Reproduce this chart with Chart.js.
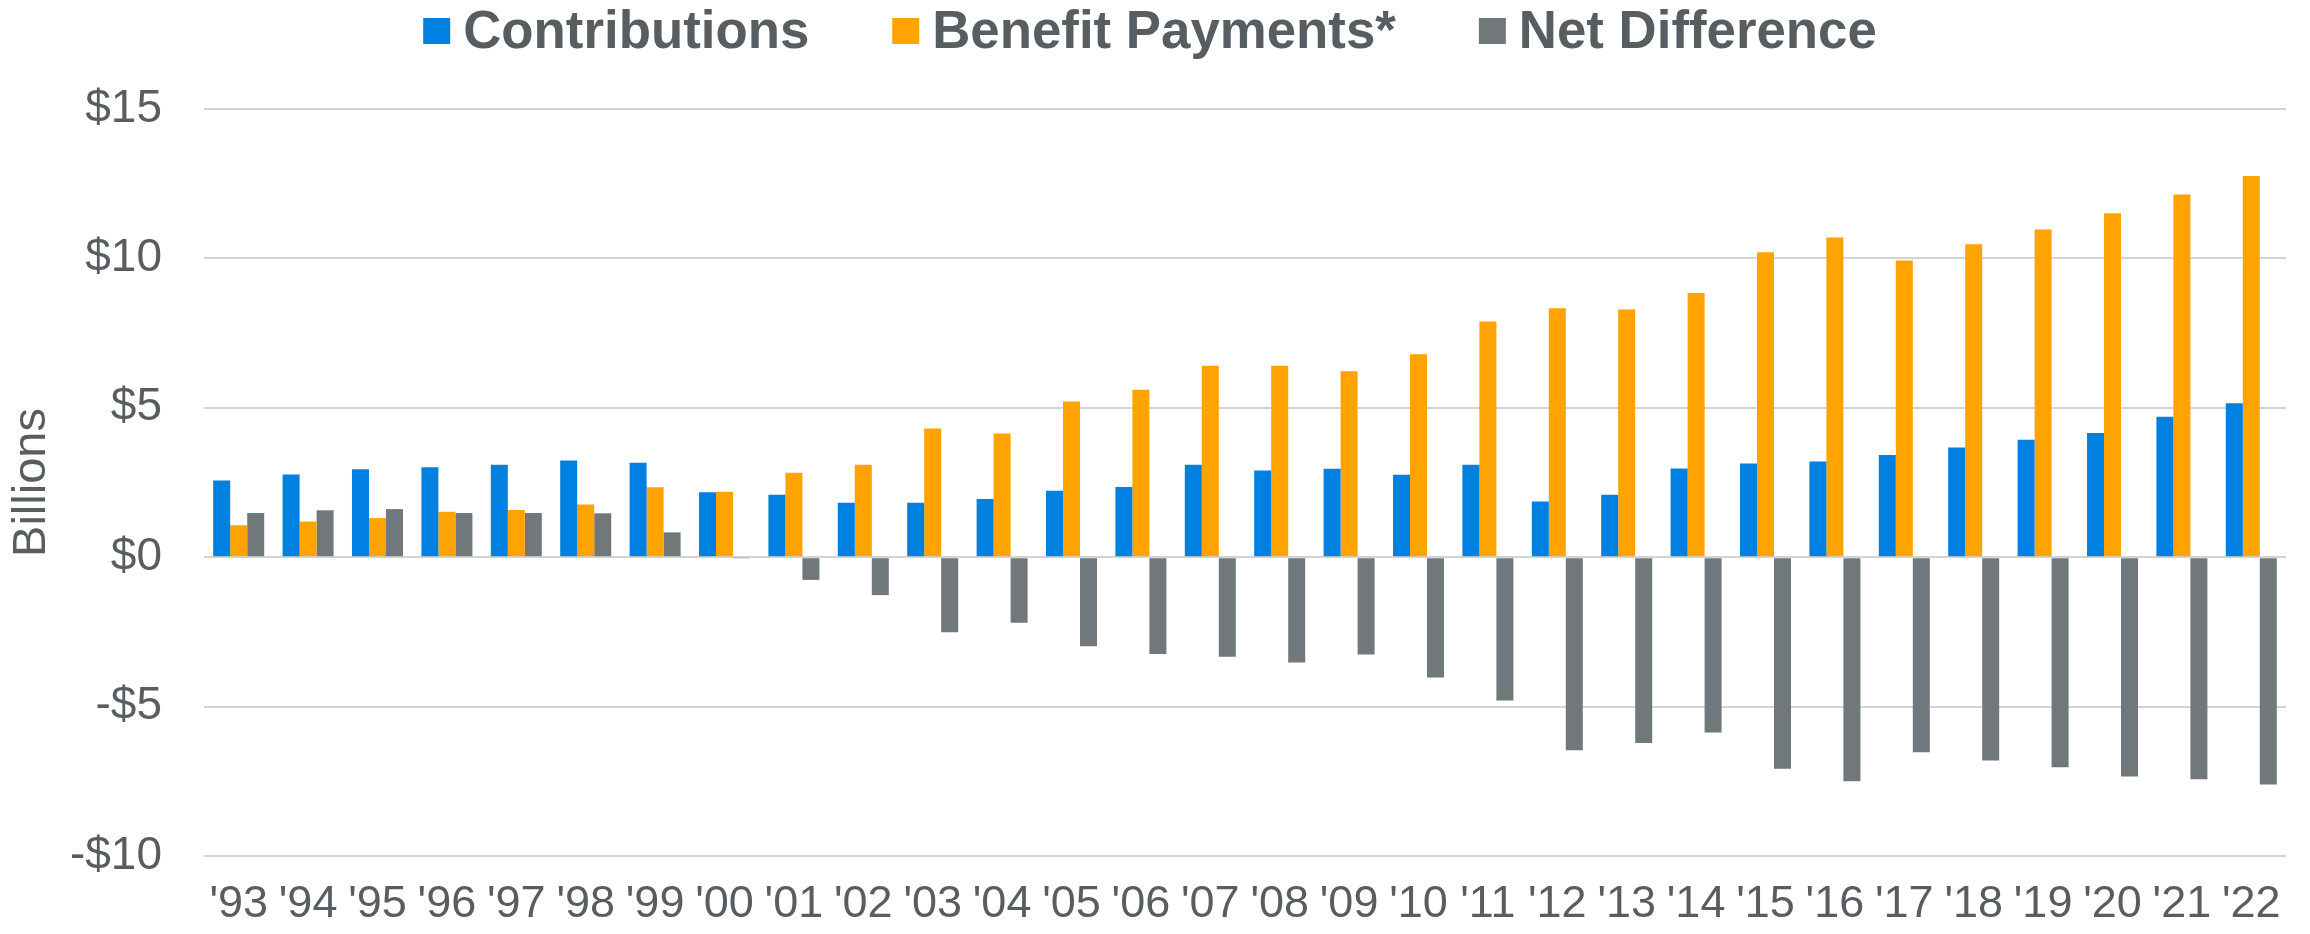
<!DOCTYPE html>
<html>
<head>
<meta charset="utf-8">
<script src="https://cdn.jsdelivr.net/npm/chart.js"></script>
<style>
  html, body { margin: 0; padding: 0; background: #ffffff; }
  canvas { display: block; }
</style>
</head>
<body>
<canvas id="c" width="2310" height="934"></canvas>
<script>
const categories = ["'93","'94","'95","'96","'97","'98","'99","'00","'01","'02","'03","'04","'05","'06","'07","'08","'09","'10","'11","'12","'13","'14","'15","'16","'17","'18","'19","'20","'21","'22"];
const contributions = [2.57,2.77,2.94,3.01,3.09,3.24,3.16,2.17,2.09,1.82,1.82,1.95,2.22,2.35,3.09,2.90,2.96,2.76,3.09,1.86,2.09,2.97,3.14,3.20,3.42,3.67,3.93,4.16,4.70,5.15];
const benefitPayments = [1.07,1.19,1.31,1.52,1.58,1.76,2.34,2.19,2.83,3.09,4.31,4.14,5.21,5.60,6.41,6.41,6.22,6.79,7.89,8.33,8.29,8.84,10.21,10.70,9.93,10.47,10.97,11.51,12.14,12.76];
const netDifference = [1.48,1.57,1.61,1.48,1.48,1.47,0.83,-0.02,-0.76,-1.27,-2.51,-2.19,-2.98,-3.24,-3.33,-3.52,-3.26,-4.03,-4.80,-6.46,-6.22,-5.87,-7.08,-7.50,-6.53,-6.80,-7.03,-7.34,-7.43,-7.61];
const seriesNames = ["Contributions", "Benefit Payments*", "Net Difference"];
const yTickValues = [-10, -5, 0, 5, 10, 15];
const yTickLabels = ["-$10", "-$5", "$0", "$5", "$10", "$15"];
const yAxisTitle = "Billions";

const FONT = '"Liberation Sans", Arial, Helvetica, sans-serif';
const TEXT = '#585d62';
const COLORS = ['#0080e1', '#ffa300', '#71787b'];

const legendPlugin = {
  id: 'customLegend',
  afterDraw(chart) {
    const ctx = chart.ctx;
    const boxW = 27, boxH = 26, gapText = 13, gapItem = 83;
    ctx.save();
    ctx.font = 'bold 52.8px ' + FONT;
    const items = chart.data.datasets.map(ds => ({
      label: ds.label, color: ds.backgroundColor,
      w: ctx.measureText(ds.label).width
    }));
    let total = 0;
    items.forEach((it, i) => { total += boxW + gapText + it.w + (i < items.length - 1 ? gapItem : 0); });
    let x = chart.width / 2 - 5 - total / 2;
    items.forEach(it => {
      ctx.fillStyle = it.color;
      ctx.fillRect(x, 18, boxW, boxH);
      ctx.fillStyle = TEXT;
      ctx.textBaseline = 'alphabetic';
      ctx.textAlign = 'left';
      ctx.fillText(it.label, x + boxW + gapText, 48);
      x += boxW + gapText + it.w + gapItem;
    });
    ctx.restore();
  }
};

new Chart(document.getElementById('c'), {
  type: 'bar',
  data: {
    labels: categories,
    datasets: [
      { label: seriesNames[0], data: contributions, backgroundColor: COLORS[0] },
      { label: seriesNames[1], data: benefitPayments, backgroundColor: COLORS[1] },
      { label: seriesNames[2], data: netDifference, backgroundColor: COLORS[2] }
    ]
  },
  options: {
    responsive: false,
    animation: false,
    layout: { padding: { top: 109, right: 24, left: 0, bottom: 0 } },
    datasets: { bar: { categoryPercentage: 0.735, barPercentage: 1.0, borderWidth: 0 } },
    plugins: {
      legend: { display: false },
      tooltip: { enabled: false },
      title: { display: false }
    },
    scales: {
      x: {
        grid: { display: false, drawTicks: false },
        border: { display: false },
        ticks: {
          autoSkip: false, maxRotation: 0, minRotation: 0,
          padding: 22,
          color: TEXT,
          font: { family: FONT, size: 45 }
        },
        afterFit(scale) { scale.height = 78; }
      },
      y: {
        min: yTickValues[0],
        max: yTickValues[yTickValues.length - 1],
        afterBuildTicks(scale) { scale.ticks = yTickValues.map(v => ({ value: v })); },
        grid: { color: '#d2d4d4', lineWidth: 2, drawTicks: false },
        border: { display: false },
        ticks: {
          padding: 42,
          color: TEXT,
          font: { family: FONT, size: 46 },
          callback(value) {
            const i = yTickValues.indexOf(value);
            return i >= 0 ? yTickLabels[i] : '';
          }
        },
        title: {
          display: true,
          text: yAxisTitle,
          color: TEXT,
          font: { family: FONT, size: 47 },
          padding: { top: 4, bottom: 0 }
        },
        afterFit(scale) { scale.width = 204; }
      }
    }
  },
  plugins: [legendPlugin]
});
</script>
</body>
</html>
